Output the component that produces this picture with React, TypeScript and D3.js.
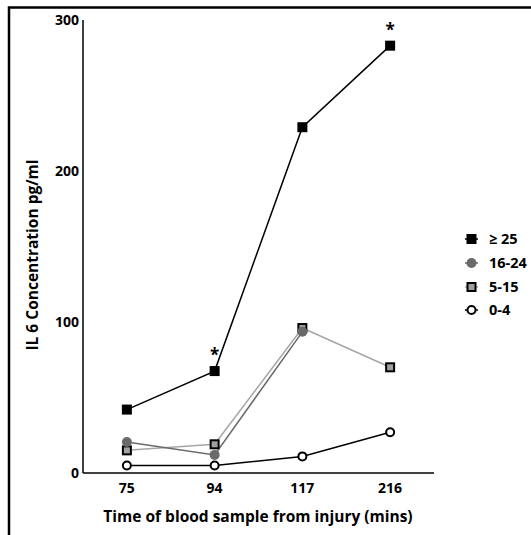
import React from "react";
import * as d3 from "d3";

const categories = ["75", "94", "117", "216"];
const yTicks = [0, 100, 200, 300];

const seriesNames = ["≥ 25", "16-24", "5-15", "0-4"];
const ge25 = [42, 67.5, 229, 283];
const s16to24 = [20.5, 12, 93.5];
const s5to15 = [15, 19, 96, 70];
const s0to4 = [5, 5, 11, 27];
const asteriskIdx = [1, 3];

const W = 531;
const H = 535;
const FONT = "'Open Sans', 'Noto Sans', sans-serif";

type Style = { line: string; marker: "square" | "circle"; fill: string; stroke: string };
const styles: Style[] = [
  { line: "#000", marker: "square", fill: "#000", stroke: "#000" },
  { line: "#6a6a6a", marker: "circle", fill: "#6a6a6a", stroke: "#6a6a6a" },
  { line: "#a6a6a6", marker: "square", fill: "#a0a0a0", stroke: "#000" },
  { line: "#000", marker: "circle", fill: "#fff", stroke: "#000" },
];
const seriesData = [ge25, s16to24, s5to15, s0to4];

function Marker({ x, y, s }: { x: number; y: number; s: Style }) {
  if (s.marker === "square") {
    const filledBlack = s.fill === "#000";
    if (filledBlack) return <rect x={x - 5} y={y - 5} width={10} height={10} fill="#000" />;
    return <rect x={x - 4} y={y - 4} width={8} height={8} fill={s.fill} stroke={s.stroke} strokeWidth={2} />;
  }
  if (s.fill === "#fff") return <circle cx={x} cy={y} r={4} fill="#fff" stroke="#000" strokeWidth={2} />;
  return <circle cx={x} cy={y} r={5} fill={s.fill} />;
}

export default function App() {
  const x = d3.scalePoint<string>().domain(categories).range([83, 434]).padding(0.5);
  const y = d3.scaleLinear().domain([0, 300]).range([473, 20]);
  const line = d3
    .line<number>()
    .x((_, i) => x(categories[i]) as number)
    .y((d) => y(d));

  const legendY = [239, 263, 287, 310];

  return (
    <svg width={W} height={H} style={{ position: "absolute", left: 0, top: 0, background: "#fff" }} fontFamily={FONT}>
      <rect x={0} y={0} width={W} height={H} fill="#fff" />
      <rect x={9} y={7.5} width={700} height={700} fill="none" stroke="#000" strokeWidth={2.5} />
      {/* axes */}
      <line x1={83} x2={83} y1={y(300)} y2={y(0)} stroke="#000" strokeWidth={1.5} />
      <line x1={83} x2={434} y1={y(0)} y2={y(0)} stroke="#000" strokeWidth={1.5} />
      {yTicks.map((t) => (
        <text key={t} x={79} y={y(t)} dy="0.35em" textAnchor="end" fontSize={14} fontWeight="bold">
          {t}
        </text>
      ))}
      {categories.map((c) => (
        <text key={c} x={x(c)} y={488} dy="0.35em" textAnchor="middle" fontSize={14} fontWeight="bold">
          {c}
        </text>
      ))}
      <text x={258} y={517} dy="0.35em" textAnchor="middle" fontSize={15.5} fontWeight="bold">
        Time of blood sample from injury (mins)
      </text>
      <text
        transform={`translate(33,255) rotate(-90)`}
        dy="0.35em"
        textAnchor="middle"
        fontSize={15.5}
        fontWeight="bold"
      >
        IL 6 Concentration pg/ml
      </text>
      {/* lines: draw in reverse order so black on top */}
      {[2, 1, 3, 0].map((si) => (
        <path key={si} d={line(seriesData[si]) || ""} fill="none" stroke={styles[si].line} strokeWidth={1.5} />
      ))}
      {[2, 1, 3, 0].map((si) =>
        seriesData[si].map((v, i) => (
          <Marker key={`${si}-${i}`} x={x(categories[i]) as number} y={y(v)} s={styles[si]} />
        ))
      )}
      {asteriskIdx.map((i) => (
        <text key={i} x={x(categories[i])} y={y(ge25[i]) - 10} textAnchor="middle" fontSize={17} fontWeight="bold">
          *
        </text>
      ))}
      {/* legend */}
      {seriesNames.map((n, i) => (
        <g key={n}>
          <line x1={465} x2={478} y1={legendY[i]} y2={legendY[i]} stroke={styles[i].line} strokeWidth={1.5} />
          <Marker x={471.5} y={legendY[i]} s={styles[i]} />
          <text x={489} y={legendY[i]} dy="0.35em" fontSize={14.5} fontWeight="bold">
            {n}
          </text>
        </g>
      ))}
    </svg>
  );
}
